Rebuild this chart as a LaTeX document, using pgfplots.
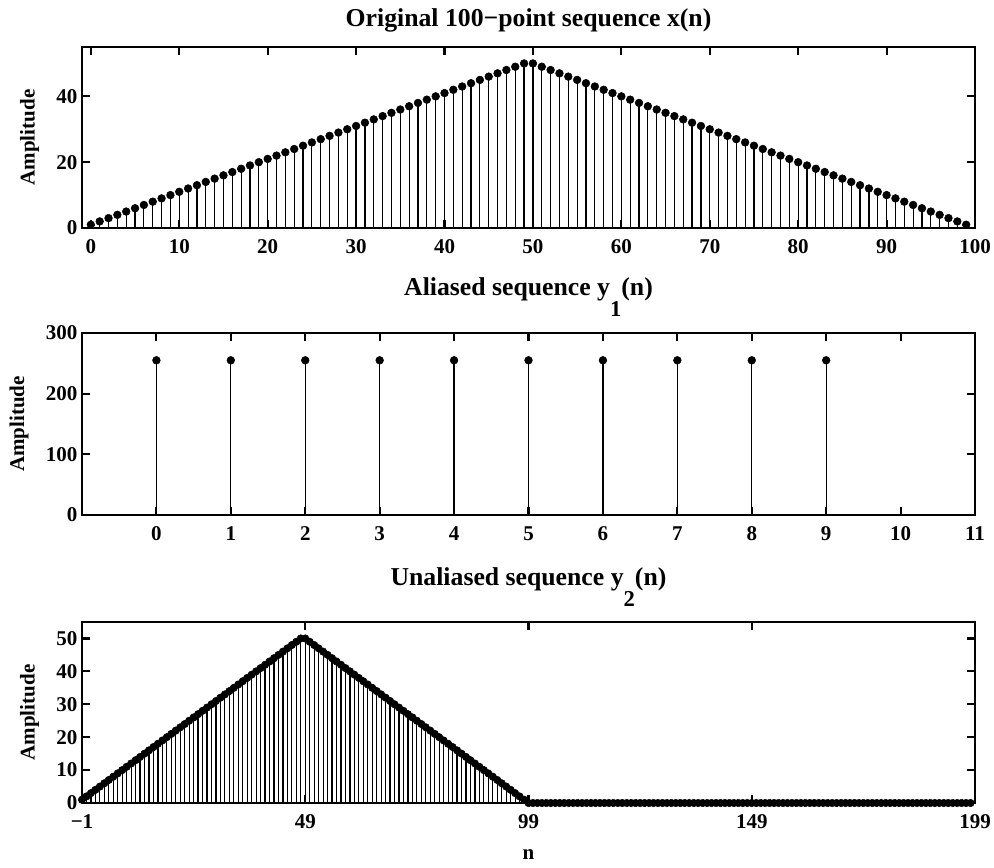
\documentclass[border=0pt]{standalone}
\usepackage{pgfplots}
\pgfplotsset{compat=1.18}
\usepackage{pgfplotstable}
\usepackage{fontspec}
\setmainfont{Liberation Serif}

% original 100-point sequence x(n)
\pgfplotstableread[row sep=\\]{
n x\\
0 1\\ 1 2\\ 2 3\\ 3 4\\ 4 5\\ 5 6\\ 6 7\\ 7 8\\ 8 9\\ 9 10\\
10 11\\ 11 12\\ 12 13\\ 13 14\\ 14 15\\ 15 16\\ 16 17\\ 17 18\\ 18 19\\ 19 20\\
20 21\\ 21 22\\ 22 23\\ 23 24\\ 24 25\\ 25 26\\ 26 27\\ 27 28\\ 28 29\\ 29 30\\
30 31\\ 31 32\\ 32 33\\ 33 34\\ 34 35\\ 35 36\\ 36 37\\ 37 38\\ 38 39\\ 39 40\\
40 41\\ 41 42\\ 42 43\\ 43 44\\ 44 45\\ 45 46\\ 46 47\\ 47 48\\ 48 49\\ 49 50\\
50 50\\ 51 49\\ 52 48\\ 53 47\\ 54 46\\ 55 45\\ 56 44\\ 57 43\\ 58 42\\ 59 41\\
60 40\\ 61 39\\ 62 38\\ 63 37\\ 64 36\\ 65 35\\ 66 34\\ 67 33\\ 68 32\\ 69 31\\
70 30\\ 71 29\\ 72 28\\ 73 27\\ 74 26\\ 75 25\\ 76 24\\ 77 23\\ 78 22\\ 79 21\\
80 20\\ 81 19\\ 82 18\\ 83 17\\ 84 16\\ 85 15\\ 86 14\\ 87 13\\ 88 12\\ 89 11\\
90 10\\ 91 9\\ 92 8\\ 93 7\\ 94 6\\ 95 5\\ 96 4\\ 97 3\\ 98 2\\ 99 1\\
}\seqx

% aliased y1(n)
\pgfplotstableread[row sep=\\]{
n y\\
0 255\\ 1 255\\ 2 255\\ 3 255\\ 4 255\\ 5 255\\ 6 255\\ 7 255\\ 8 255\\ 9 255\\
}\seqya

% unaliased y2(n)
\pgfplotstableread[row sep=\\]{
n y\\
-1 1\\ 0 2\\ 1 3\\ 2 4\\ 3 5\\ 4 6\\ 5 7\\ 6 8\\ 7 9\\ 8 10\\
9 11\\ 10 12\\ 11 13\\ 12 14\\ 13 15\\ 14 16\\ 15 17\\ 16 18\\ 17 19\\ 18 20\\
19 21\\ 20 22\\ 21 23\\ 22 24\\ 23 25\\ 24 26\\ 25 27\\ 26 28\\ 27 29\\ 28 30\\
29 31\\ 30 32\\ 31 33\\ 32 34\\ 33 35\\ 34 36\\ 35 37\\ 36 38\\ 37 39\\ 38 40\\
39 41\\ 40 42\\ 41 43\\ 42 44\\ 43 45\\ 44 46\\ 45 47\\ 46 48\\ 47 49\\ 48 50\\
49 50\\ 50 49\\ 51 48\\ 52 47\\ 53 46\\ 54 45\\ 55 44\\ 56 43\\ 57 42\\ 58 41\\
59 40\\ 60 39\\ 61 38\\ 62 37\\ 63 36\\ 64 35\\ 65 34\\ 66 33\\ 67 32\\ 68 31\\
69 30\\ 70 29\\ 71 28\\ 72 27\\ 73 26\\ 74 25\\ 75 24\\ 76 23\\ 77 22\\ 78 21\\
79 20\\ 80 19\\ 81 18\\ 82 17\\ 83 16\\ 84 15\\ 85 14\\ 86 13\\ 87 12\\ 88 11\\
89 10\\ 90 9\\ 91 8\\ 92 7\\ 93 6\\ 94 5\\ 95 4\\ 96 3\\ 97 2\\ 98 1\\
99 0\\ 100 0\\ 101 0\\ 102 0\\ 103 0\\ 104 0\\ 105 0\\ 106 0\\ 107 0\\ 108 0\\
109 0\\ 110 0\\ 111 0\\ 112 0\\ 113 0\\ 114 0\\ 115 0\\ 116 0\\ 117 0\\ 118 0\\
119 0\\ 120 0\\ 121 0\\ 122 0\\ 123 0\\ 124 0\\ 125 0\\ 126 0\\ 127 0\\ 128 0\\
129 0\\ 130 0\\ 131 0\\ 132 0\\ 133 0\\ 134 0\\ 135 0\\ 136 0\\ 137 0\\ 138 0\\
139 0\\ 140 0\\ 141 0\\ 142 0\\ 143 0\\ 144 0\\ 145 0\\ 146 0\\ 147 0\\ 148 0\\
149 0\\ 150 0\\ 151 0\\ 152 0\\ 153 0\\ 154 0\\ 155 0\\ 156 0\\ 157 0\\ 158 0\\
159 0\\ 160 0\\ 161 0\\ 162 0\\ 163 0\\ 164 0\\ 165 0\\ 166 0\\ 167 0\\ 168 0\\
169 0\\ 170 0\\ 171 0\\ 172 0\\ 173 0\\ 174 0\\ 175 0\\ 176 0\\ 177 0\\ 178 0\\
179 0\\ 180 0\\ 181 0\\ 182 0\\ 183 0\\ 184 0\\ 185 0\\ 186 0\\ 187 0\\ 188 0\\
189 0\\ 190 0\\ 191 0\\ 192 0\\ 193 0\\ 194 0\\ 195 0\\ 196 0\\ 197 0\\ 198 0\\
}\seqyb

\newcommand{\sub}[1]{\raisebox{-16pt}{\fontsize{17}{17}\selectfont #1}}

\pgfplotsset{
  stemaxis/.style={
    scale only axis, width=669.75pt,
    axis line style={line width=1.8pt},
    tick align=inside, major tick length=6pt,
    every tick/.style={black, line width=1.6pt},
    /pgf/number format/assume math mode=true,
    tick label style={font=\bfseries\fontsize{15.75}{18}\selectfont},
    xticklabel style={yshift=-5pt},
    label style={font=\bfseries\fontsize{15.75}{18}\selectfont},
    title style={font=\bfseries\fontsize{19.3}{21}\selectfont},
    ylabel={Amplitude}, ylabel shift=6pt,
    clip=false,
  },
  stem/.style={ycomb, black, line width=0.9pt, mark=*, mark size=2.9pt,
    mark options={fill=black, solid, line width=0.4pt}},
}

\begin{document}
\begin{tikzpicture}
\useasboundingbox (0,0) rectangle (745.5pt,-650.25pt);

\begin{axis}[stemaxis, at={(61.5pt,-35.25pt)}, anchor=north west, height=135.75pt,
  xmin=-1, xmax=100, ymin=0, ymax=55,
  xtick={0,10,...,100}, ytick={0,20,40},
  title style={yshift=1.5pt},
  title={Original 100−point sequence x(n)}]
\addplot[stem] table[x=n, y=x] {\seqx};
\end{axis}

\begin{axis}[stemaxis, at={(61.5pt,-249.75pt)}, anchor=north west, height=136.5pt,
  xmin=-1, xmax=11, ymin=0, ymax=300,
  xtick={0,1,...,11}, ytick={0,100,200,300},
  title style={yshift=2.5pt},
  title={Aliased sequence y\sub{1}(n)}]
\addplot[stem] table[x=n, y=y] {\seqya};
\end{axis}

\begin{axis}[stemaxis, at={(61.5pt,-466.5pt)}, anchor=north west, height=135.75pt,
  xmin=-1, xmax=199, ymin=0, ymax=55,
  xtick={-1,49,99,149,199}, xticklabels={−1,49,99,149,199},
  ytick={0,10,...,50}, xlabel={n}, xlabel style={yshift=-9pt},
  title style={yshift=2pt},
  title={Unaliased sequence y\sub{2}(n)}]
\addplot[stem, mark size=2.8pt] table[x=n, y=y] {\seqyb};
\end{axis}
\end{tikzpicture}
\end{document}
